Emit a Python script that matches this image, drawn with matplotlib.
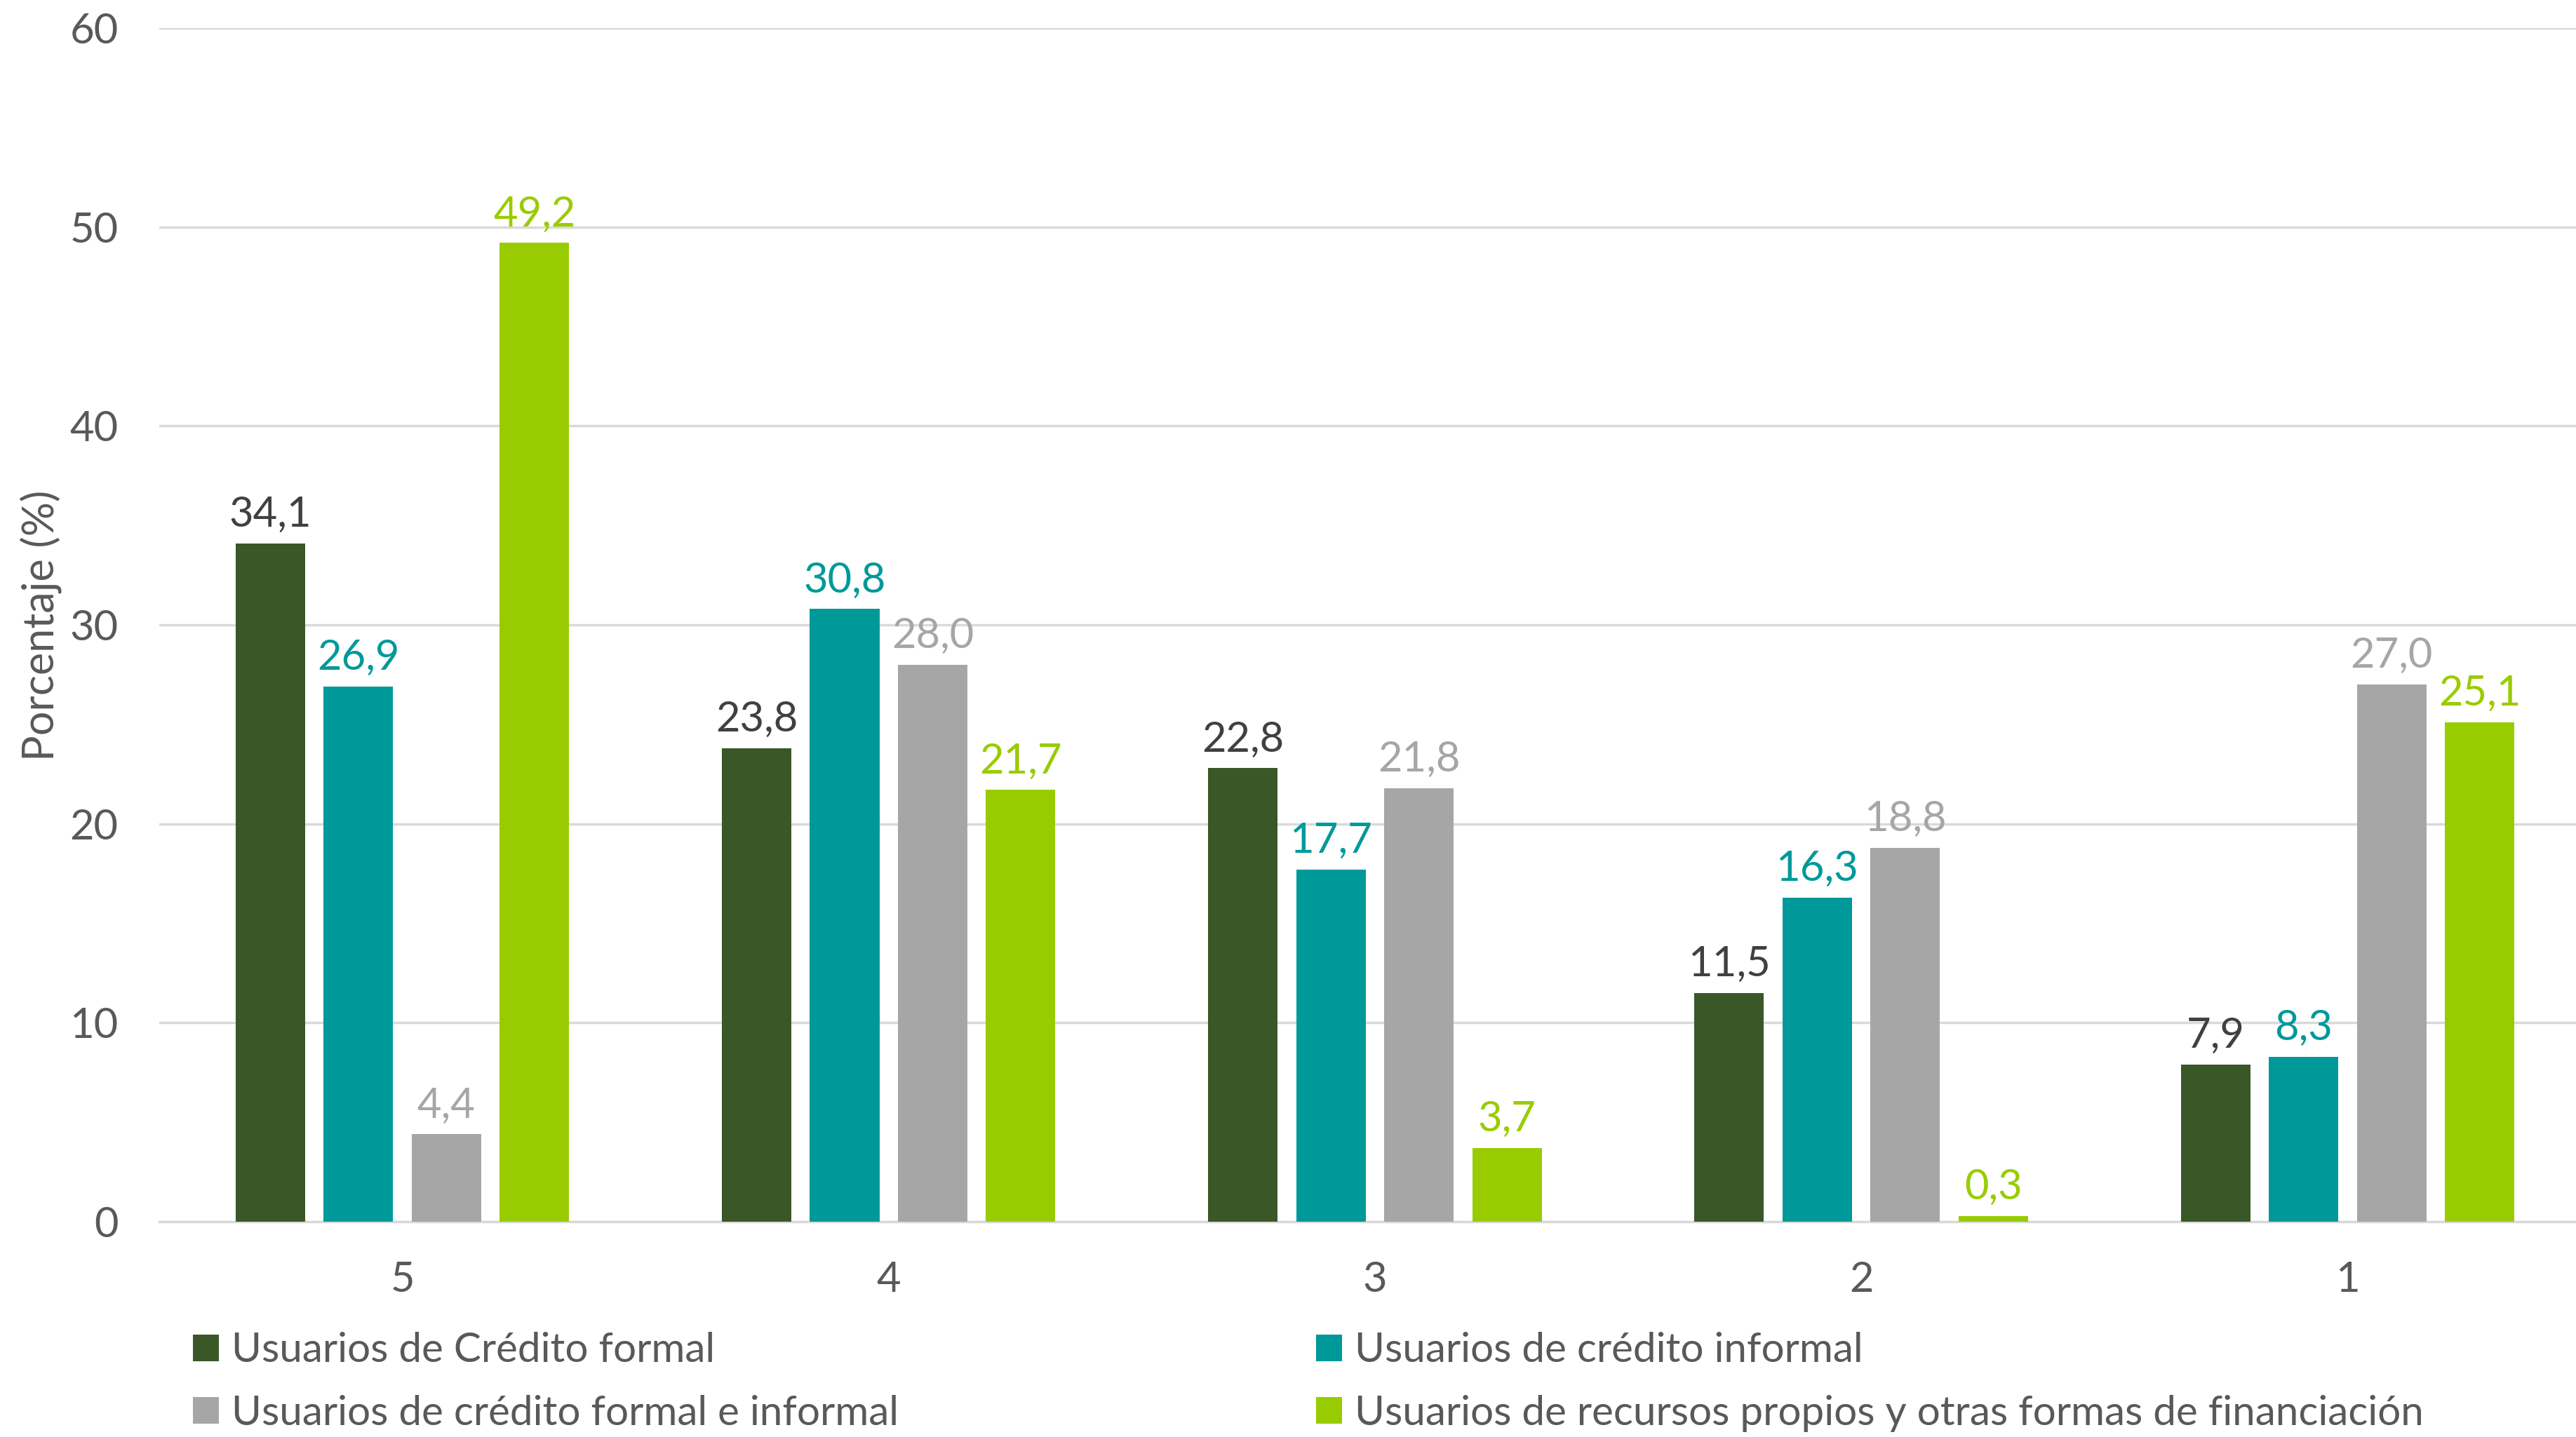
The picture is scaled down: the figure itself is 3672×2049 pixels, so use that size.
import numpy as np
import matplotlib.pyplot as plt
from matplotlib.patches import Patch

# data
quintiles = ["5", "4", "3", "2", "1"]
series_names = ["Usuarios de Crédito formal",
                "Usuarios de crédito informal",
                "Usuarios de crédito formal e informal",
                "Usuarios de recursos propios y otras formas de financiación"]
formal = [34.1, 23.8, 22.8, 11.5, 7.9]
informal = [26.9, 30.8, 17.7, 16.3, 8.3]
formal_informal = [4.4, 28.0, 21.8, 18.8, 27.0]
propios = [49.2, 21.7, 3.7, 0.3, 25.1]
yticks = [0, 10, 20, 30, 40, 50, 60]

bar_colors = ["#3A5728", "#009999", "#A6A6A6", "#99CC00"]
label_colors = ["#404040", "#009999", "#A6A6A6", "#99CC00"]
text_color = "#595959"

plt.rcParams['font.family'] = ['Lato', 'DejaVu Sans']

fig = plt.figure(figsize=(36.72, 20.49), dpi=100)
ax = fig.add_axes([0.0618, 0.1498, 0.9439, 0.8307])

x = np.arange(len(quintiles))
width = 0.143
pitch = 0.181
all_series = [formal, informal, formal_informal, propios]
for i, vals in enumerate(all_series):
    pos = x + (i - 1.5) * pitch
    bars = ax.bar(pos, vals, width, color=bar_colors[i], zorder=3)
    for b, v in zip(bars, vals):
        ax.annotate(f"{v:.1f}".replace(".", ","),
                    (b.get_x() + b.get_width() / 2, v),
                    xytext=(0, 10), textcoords="offset points",
                    ha="center", va="bottom", fontsize=43,
                    color=label_colors[i])

ax.set_xlim(-0.5, 4.5)
ax.set_ylim(0, 60)
ax.set_yticks(yticks)
ax.set_xticks(x)
ax.set_xticklabels(quintiles)
ax.grid(axis="y", color="#D9D9D9", linewidth=2.5, zorder=0)
for s in ["top", "right", "left"]:
    ax.spines[s].set_visible(False)
ax.spines["bottom"].set_color("#D9D9D9")
ax.spines["bottom"].set_linewidth(2.5)
ax.tick_params(axis="both", length=0, labelsize=43, labelcolor=text_color)
ax.tick_params(axis="y", pad=42)
ax.tick_params(axis="x", pad=40)

fig.text(0.0158, 0.5646, "Porcentaje (%)", rotation=90, ha="center", va="center",
         fontsize=44, color=text_color)

handles = [Patch(facecolor=c) for c in bar_colors]
leg_kw = dict(frameon=False, fontsize=42, handlelength=0.62, handleheight=0.62,
              handletextpad=0.32, labelspacing=0.62, labelcolor=text_color,
              borderaxespad=0, borderpad=0)
leg1 = fig.legend([handles[0], handles[2]], [series_names[0], series_names[2]],
                  loc="upper left", bbox_to_anchor=(0.075, 0.073), **leg_kw)
leg2 = fig.legend([handles[1], handles[3]], [series_names[1], series_names[3]],
                  loc="upper left", bbox_to_anchor=(0.511, 0.073), **leg_kw)

fig.savefig("out.png", dpi=100)
